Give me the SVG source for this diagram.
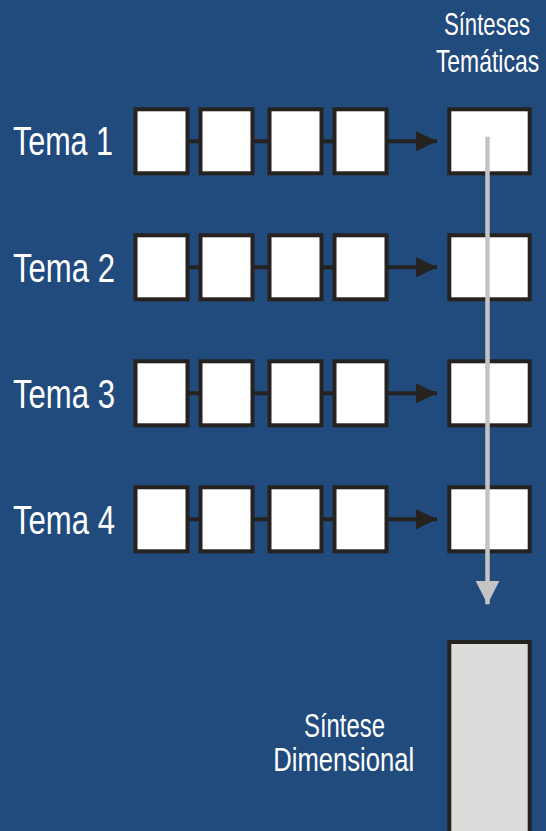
<svg xmlns="http://www.w3.org/2000/svg" width="546" height="831" viewBox="0 0 546 831">
<style>
.bg{fill:#214a7d}
.box{fill:#ffffff;stroke:#25221f;stroke-width:4}
.big{fill:#dcdcdb;stroke:#25221f;stroke-width:4}
.link{stroke:#25221f;stroke-width:4;fill:none}
.gray{stroke:#c4c4c4;stroke-width:4.5;fill:none}
.lbl{font-family:"Liberation Sans",Arial,sans-serif;fill:#ffffff}
.tema{font-size:41px}
.head{font-size:31px;text-anchor:middle}
.dim{font-size:33px;text-anchor:middle}
</style>
<defs>
<marker id="ah" markerUnits="userSpaceOnUse" markerWidth="22" markerHeight="20" refX="21" refY="10" orient="auto">
<path d="M0,0 L21,10 L0,20 Z" fill="#25221f"/>
</marker>
<marker id="gh" markerUnits="userSpaceOnUse" markerWidth="24" markerHeight="24" refX="23.6" refY="12" orient="auto">
<path d="M0,0 L23.6,12 L0,24 Z" fill="#c4c4c4"/>
</marker>
</defs>
<rect class="bg" x="0" y="0" width="546" height="831"/>
<g id="head-labels">
<text class="lbl head" transform="translate(487,34.5) scale(0.715,1)" x="0" y="0">Sínteses</text>
<text class="lbl head" transform="translate(487.5,71.5) scale(0.74,1)" x="0" y="0">Temáticas</text>
</g>
<g id="connectors">
<g id="c1">
<path class="link" d="M187.5,141.3 H200.5 M252.5,141.3 H269.5 M321.5,141.3 H334.5"/>
<path class="link" d="M386.5,141.3 H437" marker-end="url(#ah)"/>
</g>
<g id="c2">
<path class="link" d="M187.5,267.3 H200.5 M252.5,267.3 H269.5 M321.5,267.3 H334.5"/>
<path class="link" d="M386.5,267.3 H437" marker-end="url(#ah)"/>
</g>
<g id="c3">
<path class="link" d="M187.5,393.3 H200.5 M252.5,393.3 H269.5 M321.5,393.3 H334.5"/>
<path class="link" d="M386.5,393.3 H437" marker-end="url(#ah)"/>
</g>
<g id="c4">
<path class="link" d="M187.5,519.3 H200.5 M252.5,519.3 H269.5 M321.5,519.3 H334.5"/>
<path class="link" d="M386.5,519.3 H437" marker-end="url(#ah)"/>
</g>
</g>
<g id="row1">
<text class="lbl tema" x="13" y="155.3" textLength="100" lengthAdjust="spacingAndGlyphs">Tema 1</text>
<rect class="box" x="135.5" y="109.3" width="52" height="64"/>
<rect class="box" x="200.5" y="109.3" width="52" height="64"/>
<rect class="box" x="269.5" y="109.3" width="52" height="64"/>
<rect class="box" x="334.5" y="109.3" width="52" height="64"/>
<rect id="s1" class="box" x="449.3" y="109.3" width="80.4" height="64"/>
</g>
<g id="row2">
<text class="lbl tema" x="13" y="281.5" textLength="102" lengthAdjust="spacingAndGlyphs">Tema 2</text>
<rect class="box" x="135.5" y="235.3" width="52" height="64"/>
<rect class="box" x="200.5" y="235.3" width="52" height="64"/>
<rect class="box" x="269.5" y="235.3" width="52" height="64"/>
<rect class="box" x="334.5" y="235.3" width="52" height="64"/>
<rect id="s2" class="box" x="449.3" y="235.3" width="80.4" height="64"/>
</g>
<g id="row3">
<text class="lbl tema" x="13" y="407.5" textLength="102" lengthAdjust="spacingAndGlyphs">Tema 3</text>
<rect class="box" x="135.5" y="361.3" width="52" height="64"/>
<rect class="box" x="200.5" y="361.3" width="52" height="64"/>
<rect class="box" x="269.5" y="361.3" width="52" height="64"/>
<rect class="box" x="334.5" y="361.3" width="52" height="64"/>
<rect id="s3" class="box" x="449.3" y="361.3" width="80.4" height="64"/>
</g>
<g id="row4">
<text class="lbl tema" x="13" y="533.5" textLength="102" lengthAdjust="spacingAndGlyphs">Tema 4</text>
<rect class="box" x="135.5" y="487.3" width="52" height="64"/>
<rect class="box" x="200.5" y="487.3" width="52" height="64"/>
<rect class="box" x="269.5" y="487.3" width="52" height="64"/>
<rect class="box" x="334.5" y="487.3" width="52" height="64"/>
<rect id="s4" class="box" x="449.3" y="487.3" width="80.4" height="64"/>
</g>
<g id="down-arrow">
<path class="gray" d="M487.5,136.7 V604.3" marker-end="url(#gh)"/>
</g>
<g id="dimensional">
<rect class="big" x="449.3" y="642" width="80.4" height="200"/>
<text class="lbl dim" x="344.5" y="736.7" textLength="81" lengthAdjust="spacingAndGlyphs">Síntese</text>
<text class="lbl dim" x="343.7" y="770.7" textLength="141" lengthAdjust="spacingAndGlyphs">Dimensional</text>
</g>
</svg>
